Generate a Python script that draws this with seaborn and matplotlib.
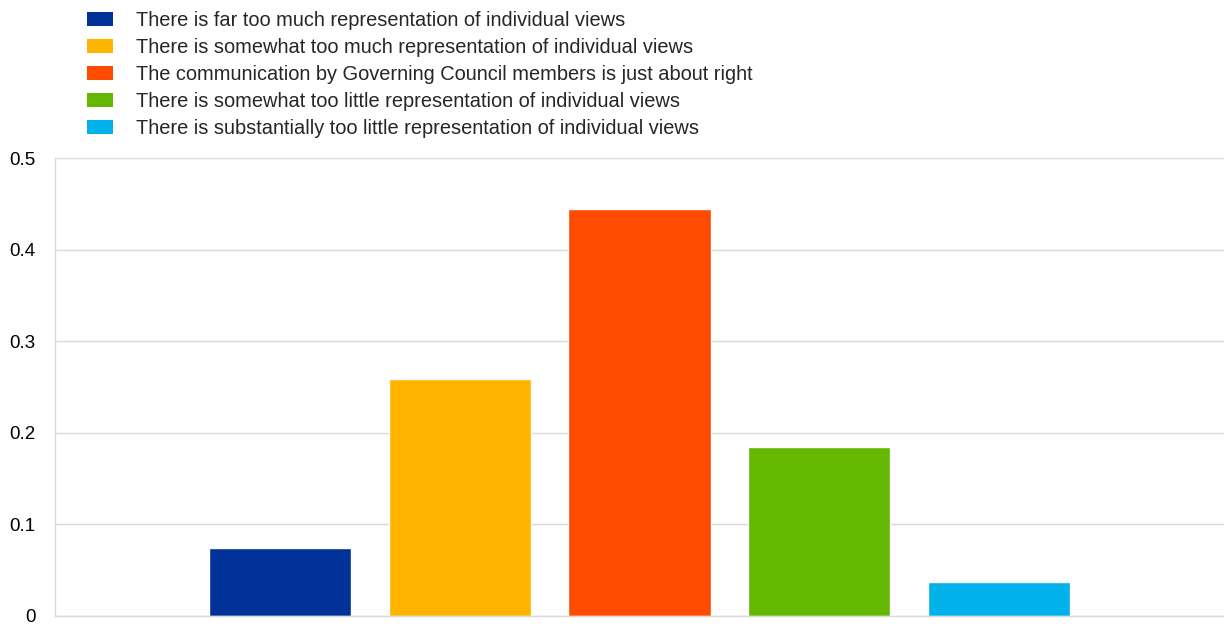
import matplotlib
matplotlib.use("Agg")
import matplotlib.pyplot as plt
from matplotlib.patches import Patch
from matplotlib.ticker import FuncFormatter
import seaborn as sns
import pandas as pd

categories = [
    "There is far too much representation of individual views",
    "There is somewhat too much representation of individual views",
    "The communication by Governing Council members is just about right",
    "There is somewhat too little representation of individual views",
    "There is substantially too little representation of individual views",
]
shares = [0.074, 0.259, 0.444, 0.185, 0.037]
colors = ["#003299", "#FFB400", "#FF4B00", "#65B800", "#00B1EA"]
y_ticks = [0, 0.1, 0.2, 0.3, 0.4, 0.5]

sns.set_theme(style="white")
plt.rcParams["font.family"] = ["Liberation Sans", "DejaVu Sans"]

df = pd.DataFrame({"category": categories, "share": shares})

fig = plt.figure(figsize=(12.24, 6.24), dpi=100)
ax = fig.add_axes([55 / 1224, 8 / 624, 1 - 55 / 1224, (616 - 158) / 624])

sns.barplot(data=df, x="category", y="share", hue="category",
            palette=colors, order=categories, hue_order=categories,
            width=0.79, saturation=1, legend=False, ax=ax)

ax.set_xlim(-1.25, 5.25)
ax.set_ylim(0, 0.5)
ax.set_yticks(y_ticks)
ax.yaxis.set_major_formatter(FuncFormatter(lambda v, p: f"{v:g}"))
ax.set_xticks([])
ax.set_xlabel("")
ax.set_ylabel("")
ax.tick_params(axis="y", length=0, pad=14, labelsize=13.5, labelcolor="black")
ax.grid(axis="y", color="#d9d9d9", linewidth=1)
ax.set_axisbelow(True)
for side in ["top", "right"]:
    ax.spines[side].set_visible(False)
for side in ["left", "bottom"]:
    ax.spines[side].set_color("#d9d9d9")
    ax.spines[side].set_linewidth(1)

handles = [Patch(facecolor=c, edgecolor="none") for c in colors]
fig.legend(handles, categories, loc="upper left",
           bbox_to_anchor=(87 / 1224, 1 - 11 / 624),
           frameon=False, fontsize=14.4, handlelength=1.3, handleheight=0.75,
           handletextpad=1.15, labelspacing=0.4, borderaxespad=0, borderpad=0)

fig.savefig("out.png", dpi=100)
